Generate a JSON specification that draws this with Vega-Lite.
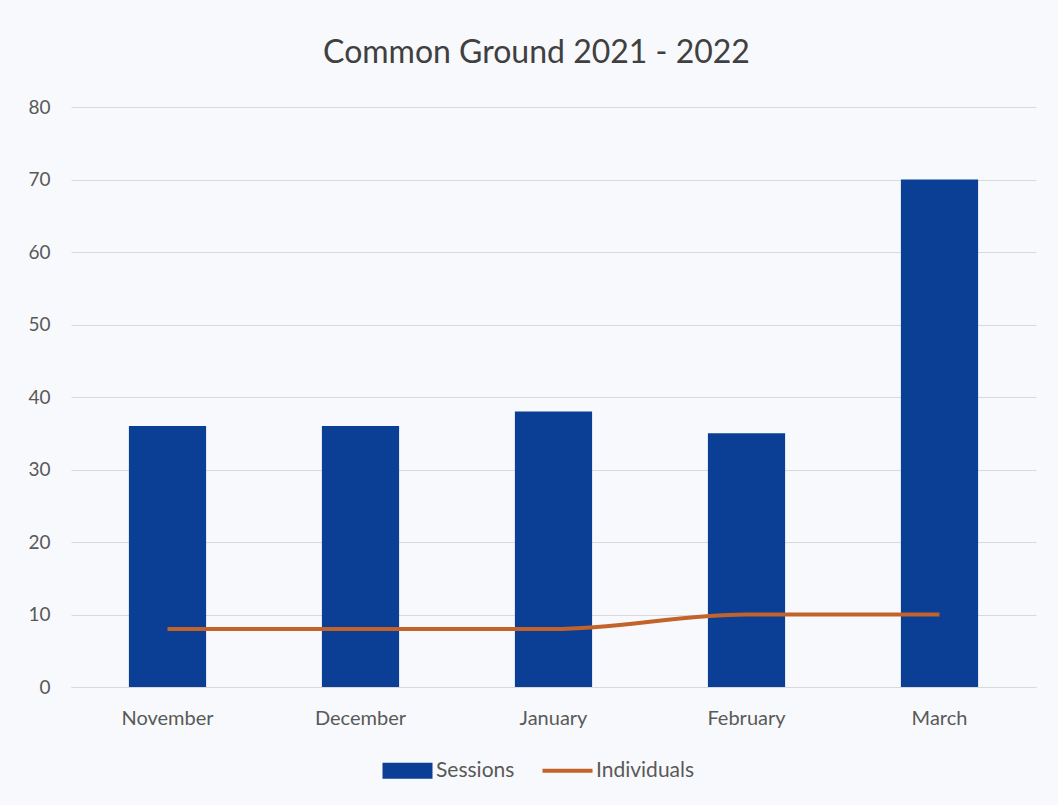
{
  "$schema": "https://vega.github.io/schema/vega-lite/v6.json",
  "width": 965,
  "height": 580,
  "autosize": "none",
  "padding": {"left": 71, "top": 107, "right": 22, "bottom": 118},
  "background": "#f8f9fc",
  "title": {
    "text": "Common Ground 2021 - 2022",
    "font": "Lato",
    "fontSize": 32,
    "fontWeight": "normal",
    "color": "#404040",
    "anchor": "middle",
    "offset": 28,
    "dx": -17
  },
  "data": {
    "values": [
      {"month": "November", "Sessions": 36, "Individuals": 8},
      {"month": "December", "Sessions": 36, "Individuals": 8},
      {"month": "January", "Sessions": 38, "Individuals": 8},
      {"month": "February", "Sessions": 35, "Individuals": 10},
      {"month": "March", "Sessions": 70, "Individuals": 10}
    ]
  },
  "config": {
    "view": {"stroke": null},
    "font": "Lato"
  },
  "encoding": {
    "x": {
      "field": "month",
      "type": "nominal",
      "sort": null,
      "scale": {"paddingInner": 0.6, "paddingOuter": 0.3},
      "axis": {
        "title": null,
        "labelAngle": 0,
        "labelFontSize": 20,
        "labelColor": "#595959",
        "labelPadding": 21,
        "ticks": false,
        "domainColor": "#d9d9d9",
        "domainWidth": 1
      }
    }
  },
  "layer": [
    {
      "mark": {"type": "bar"},
      "encoding": {
        "y": {
          "field": "Sessions",
          "type": "quantitative",
          "scale": {"domain": [0, 80]},
          "axis": {
            "title": null,
            "values": [0, 10, 20, 30, 40, 50, 60, 70, 80],
            "domain": false,
            "ticks": false,
            "gridColor": "#d9d9d9",
            "labelFontSize": 19,
            "labelColor": "#595959",
            "labelPadding": 21
          }
        },
        "color": {
          "datum": "Sessions",
          "type": "nominal",
          "scale": {"domain": ["Sessions", "Individuals"], "range": ["#0b3f95", "#c2632b"]},
          "legend": {
            "title": null,
            "orient": "none",
            "legendX": 326,
            "legendY": 653,
            "direction": "horizontal",
            "labelFontSize": 21,
            "labelColor": "#595959",
            "labelOffset": 18,
            "columnPadding": 19,
            "symbolSize": 2500,
            "encode": {
              "symbols": {
                "update": {
                  "shape": {"signal": "datum.value === 'Sessions' ? 'M-1,-0.32H1V0.32H-1Z' : 'M-1,0H1'"},
                  "fill": {"signal": "datum.value === 'Sessions' ? '#0b3f95' : 'transparent'"},
                  "stroke": {"signal": "datum.value === 'Sessions' ? '#0b3f95' : '#c2632b'"},
                  "strokeWidth": {"signal": "datum.value === 'Sessions' ? 0 : 4"},
                  "opacity": {"value": 1}
                }
              }
            }
          }
        }
      }
    },
    {
      "mark": {"type": "line", "interpolate": "monotone", "strokeWidth": 4},
      "encoding": {
        "y": {"field": "Individuals", "type": "quantitative"},
        "color": {"datum": "Individuals", "type": "nominal"}
      }
    }
  ]
}
